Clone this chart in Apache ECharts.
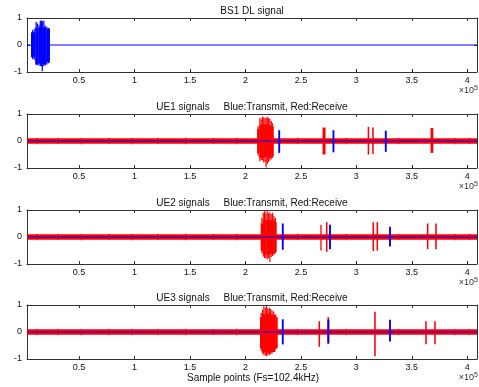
<!DOCTYPE html>
<html>
<head>
<meta charset="utf-8">
<script src="https://cdn.jsdelivr.net/npm/echarts@6/dist/echarts.min.js"></script>
<style>html,body{margin:0;padding:0;background:#fff}#c{width:479px;height:387px}</style>
</head>
<body>
<div id="c"></div>
<script>
// ---- data (sample index, amplitude) ----
const xMin = 3000, xMax = 408800;
const xTickValues = [50000, 100000, 150000, 200000, 250000, 300000, 350000, 400000];
const yTickValues = [-1, 0, 1];
const panelTitles = [
  'BS1 DL signal',
  'UE1 signals     Blue:Transmit, Red:Receive',
  'UE2 signals     Blue:Transmit, Red:Receive',
  'UE3 signals     Blue:Transmit, Red:Receive'
];
const xAxisName = 'Sample points (Fs=102.4kHz)';

// segments: [xStart, xEnd, low, high]  (xStart == xEnd -> single spike)
const bs1Tx = [
  [6600, 10500, -0.45, 0.47], [10500, 13500, -0.7, 0.64], [13500, 17000, -0.68, 0.66],
  [17000, 20500, -0.72, 0.65], [20500, 23700, -0.64, 0.6],
  [8000, 8000, -0.52, 0.55], [9500, 9500, -0.55, 0.6], [11200, 11200, -0.75, 0.86],
  [12300, 12300, -0.74, 0.8], [13800, 13800, -0.76, 0.75], [15000, 15000, -0.78, 0.9],
  [16100, 16100, -0.8, 0.91], [16800, 16800, -0.97, 0.88], [18200, 18200, -0.78, 0.9],
  [19400, 19400, -0.76, 0.72], [21000, 21000, -0.72, 0.68], [22500, 22500, -0.68, 0.64]
];
const rxFloorSpikes = [
  [12000, 12000, -0.12, 0.11], [31000, 31000, -0.11, 0.12], [52000, 52000, -0.12, 0.11],
  [77000, 77000, -0.11, 0.12], [98000, 98000, -0.12, 0.11], [121000, 121000, -0.11, 0.12],
  [146000, 146000, -0.12, 0.12], [171000, 171000, -0.11, 0.11], [192000, 192000, -0.12, 0.12],
  [247000, 247000, -0.11, 0.12], [291000, 291000, -0.12, 0.11], [338000, 338000, -0.11, 0.12],
  [389000, 389000, -0.12, 0.11], [402000, 402000, -0.11, 0.12]
];
const ue1Rx = [
  [3000, 408800, -0.1, 0.1],
  [210500, 212500, -0.45, 0.45], [212500, 216000, -0.62, 0.6], [216000, 220000, -0.6, 0.62],
  [220000, 223500, -0.62, 0.58], [223500, 225500, -0.56, 0.53],
  [211500, 211500, -0.55, 0.55], [213000, 213000, -0.75, 0.86], [214200, 214200, -0.7, 0.8],
  [215300, 215300, -0.72, 0.9], [216500, 216500, -0.8, 0.88], [217700, 217700, -0.78, 0.84],
  [218600, 218600, -0.98, 0.86], [219700, 219700, -0.85, 0.9], [220800, 220800, -0.78, 0.85],
  [222000, 222000, -0.72, 0.82], [223300, 223300, -0.68, 0.74], [224500, 224500, -0.62, 0.66],
  [269500, 272200, -0.5, 0.5], [310200, 311600, -0.5, 0.52], [314300, 315700, -0.48, 0.5],
  [366900, 369400, -0.44, 0.48]
];
const ue1Tx = [
  [229600, 231300, -0.44, 0.4], [278500, 280200, -0.42, 0.4], [325700, 327400, -0.4, 0.38]
];
const ue2Rx = [
  [3000, 408800, -0.1, 0.1],
  [213700, 215800, -0.5, 0.5], [215800, 219000, -0.64, 0.63], [219000, 223000, -0.65, 0.64],
  [223000, 226500, -0.62, 0.62], [226500, 228200, -0.55, 0.55],
  [214800, 214800, -0.6, 0.7], [216000, 216000, -0.72, 0.9], [217200, 217200, -0.78, 0.96],
  [218400, 218400, -0.8, 0.9], [219600, 219600, -0.82, 0.97], [220800, 220800, -0.78, 0.88],
  [222000, 222000, -0.93, 0.92], [223200, 223200, -0.74, 0.86], [224500, 224500, -0.7, 0.9],
  [225700, 225700, -0.66, 0.78], [227000, 227000, -0.6, 0.7],
  [267500, 268700, -0.5, 0.45], [272600, 274000, -0.55, 0.55], [314600, 316000, -0.52, 0.55],
  [318200, 319600, -0.5, 0.55], [363600, 365000, -0.45, 0.5], [371100, 372500, -0.45, 0.5]
];
const ue2Tx = [
  [232800, 234500, -0.47, 0.5], [275400, 277100, -0.45, 0.45], [329500, 331200, -0.35, 0.38]
];
const ue3Rx = [
  [3000, 408800, -0.105, 0.105],
  [213100, 215000, -0.6, 0.55], [215000, 219000, -0.76, 0.66], [219000, 223000, -0.78, 0.68],
  [223000, 227000, -0.74, 0.64], [227000, 229100, -0.6, 0.55],
  [214200, 214200, -0.7, 0.7], [215400, 215400, -0.8, 0.82], [216600, 216600, -0.85, 0.95],
  [217800, 217800, -0.88, 0.9], [219000, 219000, -0.9, 0.96], [220200, 220200, -0.85, 0.88],
  [221500, 221500, -0.86, 0.9], [222700, 222700, -0.82, 0.85], [224000, 224000, -0.8, 0.8],
  [225500, 225500, -0.74, 0.76], [227300, 227300, -0.66, 0.66],
  [265900, 267300, -0.55, 0.4], [273900, 275500, -0.45, 0.55], [316100, 317500, -0.9, 0.75],
  [362100, 363500, -0.45, 0.4], [370200, 371600, -0.45, 0.4]
];
const ue3Tx = [
  [232800, 234500, -0.46, 0.47], [273900, 275600, -0.4, 0.45], [329500, 331200, -0.35, 0.45]
];
const baseline = [[xMin, 0], [xMax, 0]];

const panels = [
  { rx: null, tx: bs1Tx },
  { rx: ue1Rx.concat(rxFloorSpikes), tx: ue1Tx },
  { rx: ue2Rx.concat(rxFloorSpikes), tx: ue2Tx },
  { rx: ue3Rx.concat(rxFloorSpikes), tx: ue3Tx }
];

// ---- layout ----
const gridTops = [18, 114, 210, 305];
const gridH = 54, gridL = 27, gridR = 2;
const FONT = 'Liberation Sans, Arial, sans-serif';
const RED = '#ff0000', BLUE = '#0000ff', AX = '#333';

function makeRender(color) {
  return function (params, api) {
    const p0 = api.coord([api.value(0), api.value(3)]);
    const p1 = api.coord([api.value(1), api.value(2)]);
    let x = p0[0], w = p1[0] - p0[0];
    if (w < 1.2) { x = (p0[0] + p1[0]) / 2 - 0.6; w = 1.2; }
    return { type: 'rect', shape: { x: x, y: p0[1], width: w, height: p1[1] - p0[1] }, style: { fill: color } };
  };
}

const grid = [], xAxis = [], yAxis = [], series = [], graphic = [];
gridTops.forEach(function (top, i) {
  grid.push({ left: gridL, right: gridR, top: top, height: gridH });
  const tick = { show: true, inside: true, length: 3, lineStyle: { color: AX, width: 1 }, customValues: xTickValues };
  xAxis.push({
    type: 'value', gridIndex: i, min: xMin, max: xMax, position: 'bottom',
    axisLine: { show: true, onZero: false, lineStyle: { color: AX, width: 1 } },
    axisTick: tick,
    axisLabel: { customValues: xTickValues, formatter: function (v) { return String(v / 100000); }, fontSize: 9, color: '#111', fontFamily: FONT, margin: 4 },
    splitLine: { show: false }
  });
  xAxis.push({
    type: 'value', gridIndex: i, min: xMin, max: xMax, position: 'top',
    axisLine: { show: true, onZero: false, lineStyle: { color: AX, width: 1 } },
    axisTick: tick, axisLabel: { show: false }, splitLine: { show: false }
  });
  const ytick = { show: true, inside: true, length: 3, lineStyle: { color: AX, width: 1 }, customValues: yTickValues };
  yAxis.push({
    type: 'value', gridIndex: i, min: -1, max: 1, position: 'left',
    axisLine: { show: true, onZero: false, lineStyle: { color: AX, width: 1 } },
    axisTick: ytick,
    axisLabel: { customValues: yTickValues, fontSize: 9, color: '#111', fontFamily: FONT, margin: 5 },
    splitLine: { show: false }
  });
  yAxis.push({
    type: 'value', gridIndex: i, min: -1, max: 1, position: 'right',
    axisLine: { show: true, onZero: false, lineStyle: { color: AX, width: 1 } },
    axisTick: ytick, axisLabel: { show: false }, splitLine: { show: false }
  });
  const xi = i * 2, yi = i * 2;
  const p = panels[i];
  if (p.rx) {
    series.push({ type: 'custom', xAxisIndex: xi, yAxisIndex: yi, data: p.rx, encode: { x: [0, 1], y: [2, 3] },
      renderItem: makeRender(RED), clip: true, z: 2, silent: true });
  }
  series.push({ type: 'line', xAxisIndex: xi, yAxisIndex: yi, data: baseline, symbol: 'none',
    lineStyle: { color: BLUE, width: 1 }, z: 3, silent: true, animation: false, clip: true });
  series.push({ type: 'custom', xAxisIndex: xi, yAxisIndex: yi, data: p.tx, encode: { x: [0, 1], y: [2, 3] },
    renderItem: makeRender(BLUE), clip: true, z: 4, silent: true });

  graphic.push({ type: 'text', x: 252, y: top - 7, style: { text: panelTitles[i], font: '10px ' + FONT, fill: '#111', textAlign: 'center', textVerticalAlign: 'middle' } });
  graphic.push({ type: 'text', x: 478, y: top + gridH + 19, style: {
    text: '×10{s|5}', font: '9px ' + FONT, fill: '#333', textAlign: 'right', textVerticalAlign: 'middle',
    rich: { s: { fontSize: 7, verticalAlign: 'top', padding: [0, 0, 5, 0], fill: '#333' } } } });
});
graphic.push({ type: 'text', x: 253, y: 378, style: { text: xAxisName, font: '10px ' + FONT, fill: '#111', textAlign: 'center', textVerticalAlign: 'middle' } });

const chart = echarts.init(document.getElementById('c'), null, { renderer: 'canvas' });
chart.setOption({ animation: false, grid: grid, xAxis: xAxis, yAxis: yAxis, series: series, graphic: graphic });
</script>
</body>
</html>
